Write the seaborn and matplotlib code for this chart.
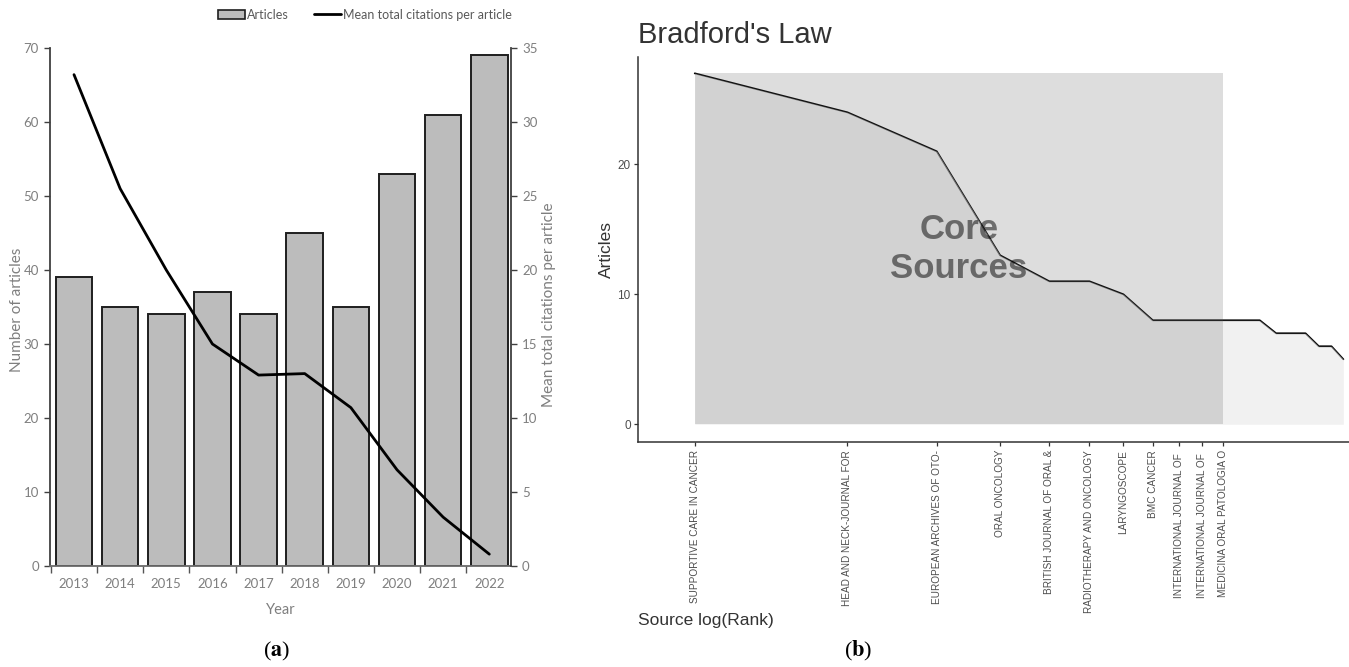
import numpy as np
import pandas as pd
import matplotlib
matplotlib.use("Agg")
import matplotlib.pyplot as plt
from matplotlib.patches import Patch, Rectangle
from matplotlib.lines import Line2D
import seaborn as sns

# ---- panel (a): annual production and mean citations ----
years = ["2013", "2014", "2015", "2016", "2017", "2018", "2019", "2020", "2021", "2022"]
articles = [39, 35, 34, 37, 34, 45, 35, 53, 61, 69]
mean_citations = [33.2, 25.5, 20.0, 15.0, 12.9, 13.0, 10.7, 6.5, 3.3, 0.8]

# ---- panel (b): Bradford's law, sources ranked by article count ----
source_rank = list(range(1, 20))
source_articles = [27, 24, 21, 13, 11, 11, 10, 8, 8, 8, 8, 8, 8, 7, 7, 7, 6, 6, 5]
core_labels = [
    "SUPPORTIVE CARE IN CANCER",
    "HEAD AND NECK-JOURNAL FOR",
    "EUROPEAN ARCHIVES OF OTO-",
    "ORAL ONCOLOGY",
    "BRITISH JOURNAL OF ORAL &",
    "RADIOTHERAPY AND ONCOLOGY",
    "LARYNGOSCOPE",
    "BMC CANCER",
    "INTERNATIONAL JOURNAL OF ",
    "INTERNATIONAL JOURNAL OF ",
    "MEDICINA ORAL PATOLOGIA O",
]

sns.set_theme(style="white")
plt.rcParams["font.family"] = ["Lato", "DejaVu Sans"]
plt.rcParams["mathtext.fontset"] = "stix"

W, H = 1349, 667
fig = plt.figure(figsize=(W / 100, H / 100), dpi=100)
fig.patch.set_facecolor("white")

gray_txt = "#7f7f7f"
bar_fill = "#bcbcbc"
bar_edge = "#1e1e1e"

# ---------------- panel (a) ----------------
ax1 = fig.add_axes([50 / W, 1 - 566 / H, 461 / W, 518 / H])
df_a = pd.DataFrame({"Year": years, "Articles": articles, "Citations": mean_citations})
sns.barplot(data=df_a, x="Year", y="Articles", color=bar_fill, saturation=1,
            edgecolor=bar_edge, linewidth=1.4, width=0.79, ax=ax1)
ax1.set_xlim(-0.52, 9.47)
ax1.set_ylim(0, 70)
ax1.set_yticks(np.arange(0, 71, 10))
ax1.set_xlabel("Year", fontsize=10.5, color=gray_txt, labelpad=9)
ax1.set_ylabel("")
ax1.tick_params(axis="y", colors="#404040", labelcolor=gray_txt, labelsize=9.5,
                length=4, width=1, direction="out", left=True, pad=4)
ax1.set_xticks(np.arange(-0.5, len(years), 1), minor=True)
ax1.tick_params(axis="x", which="major", length=0, labelsize=9.5, labelcolor=gray_txt, pad=9)
ax1.tick_params(axis="x", which="minor", length=5, width=1, color="#555555", bottom=True)
for s in ["top", "right"]:
    ax1.spines[s].set_visible(False)
ax1.spines["left"].set_color("#404040")
ax1.spines["left"].set_linewidth(1.3)
ax1.spines["bottom"].set_color("#6a6a6a")
ax1.spines["bottom"].set_linewidth(1.3)
fig.text(17 / W, 1 - 310 / H, "Number of articles", rotation=90, ha="center",
         va="center", fontsize=11, color=gray_txt)

ax2 = ax1.twinx()
sns.lineplot(x=np.arange(len(years)), y=df_a["Citations"], color="black",
             linewidth=2, ax=ax2)
ax2.set_ylim(0, 35)
ax2.set_yticks(np.arange(0, 36, 5))
ax2.set_ylabel("")
ax2.tick_params(axis="y", colors="#404040", labelcolor=gray_txt, labelsize=9.5,
                length=4, width=1, direction="out", right=True, pad=4)
for s in ["top", "left", "bottom"]:
    ax2.spines[s].set_visible(False)
ax2.spines["right"].set_color("#404040")
ax2.spines["right"].set_linewidth(1.3)
ax1.set_xlim(-0.52, 9.47)
fig.text(549 / W, 1 - 305 / H, "Mean total citations per article", rotation=90,
         ha="center", va="center", fontsize=11, color=gray_txt)

handles = [Patch(facecolor=bar_fill, edgecolor=bar_edge, linewidth=1.2),
           Line2D([0], [0], color="black", linewidth=2)]
fig.legend(handles, ["Articles", "Mean total citations per article"],
           loc="center", bbox_to_anchor=(365 / W, 1 - 15 / H), ncol=2, frameon=False,
           fontsize=9, labelcolor="#595959", handlelength=2.2, handleheight=0.8,
           handletextpad=0.15, columnspacing=2.0)

fig.text(277 / W, 1 - 651 / H, r"($\mathbf{a}$)", ha="center", va="center",
         fontsize=16, family=["Liberation Serif", "DejaVu Serif"], color="black")

# ---------------- panel (b) ----------------
sans = ["Liberation Sans", "DejaVu Sans"]
axb = fig.add_axes([637.7 / W, 1 - 441.7 / H, (W - 637.7) / W, (441.7 - 56.7) / H])
log_rank = np.log(np.array(source_rank, dtype=float))
freq = np.array(source_articles, dtype=float)
n_core = len(core_labels)

sns.lineplot(x=log_rank, y=freq, color="black", linewidth=1.3, ax=axb, zorder=2)
axb.fill_between(log_rank, 0, freq, color="#e5e5e5", alpha=0.5, linewidth=0, zorder=3)
axb.add_patch(Rectangle((0, 0), log_rank[n_core - 1], freq.max(),
                        facecolor="#595959", alpha=0.2, linewidth=0, zorder=4))
axb.text(log_rank[n_core - 1] / 2, freq.max() / 2, "Core\nSources", ha="center",
         va="center", fontsize=25, fontweight="bold", color="black", alpha=0.5,
         family=sans, linespacing=1.25, zorder=5)

axb.set_xlim(-0.259, 2.970)
axb.set_ylim(-1.34, 28.28)
axb.set_yticks([0, 10, 20])
axb.set_xticks(log_rank[:n_core])
axb.set_xticklabels(core_labels, rotation=90, ha="center", va="top",
                    fontsize=7.2, color="#4d4d4d", family=sans)
for lab in axb.get_yticklabels():
    lab.set_family(sans)
axb.tick_params(axis="y", labelsize=8.5, labelcolor="#4d4d4d", color="#333333",
                length=3, width=0.9, left=True, pad=2)
axb.tick_params(axis="x", color="#333333", length=3, width=0.9, bottom=True, pad=3)
axb.set_xlabel("")
axb.set_ylabel("")
for s in ["top", "right"]:
    axb.spines[s].set_visible(False)
for s in ["left", "bottom"]:
    axb.spines[s].set_color("#333333")
    axb.spines[s].set_linewidth(1.1)

fig.text(638 / W, 1 - 43 / H, "Bradford's Law", ha="left", va="baseline",
         fontsize=21, color="#333333", family=sans)
fig.text(606 / W, 1 - 250 / H, "Articles", rotation=90, ha="center", va="center",
         fontsize=12.5, color="#333333", family=sans)
fig.text(638 / W, 1 - 621 / H, "Source log(Rank)", ha="left", va="center",
         fontsize=12.5, color="#333333", family=sans)
fig.text(858 / W, 1 - 651 / H, r"($\mathbf{b}$)", ha="center", va="center",
         fontsize=16, family=["Liberation Serif", "DejaVu Serif"], color="black")

fig.savefig("out.png", dpi=100, facecolor="white")
